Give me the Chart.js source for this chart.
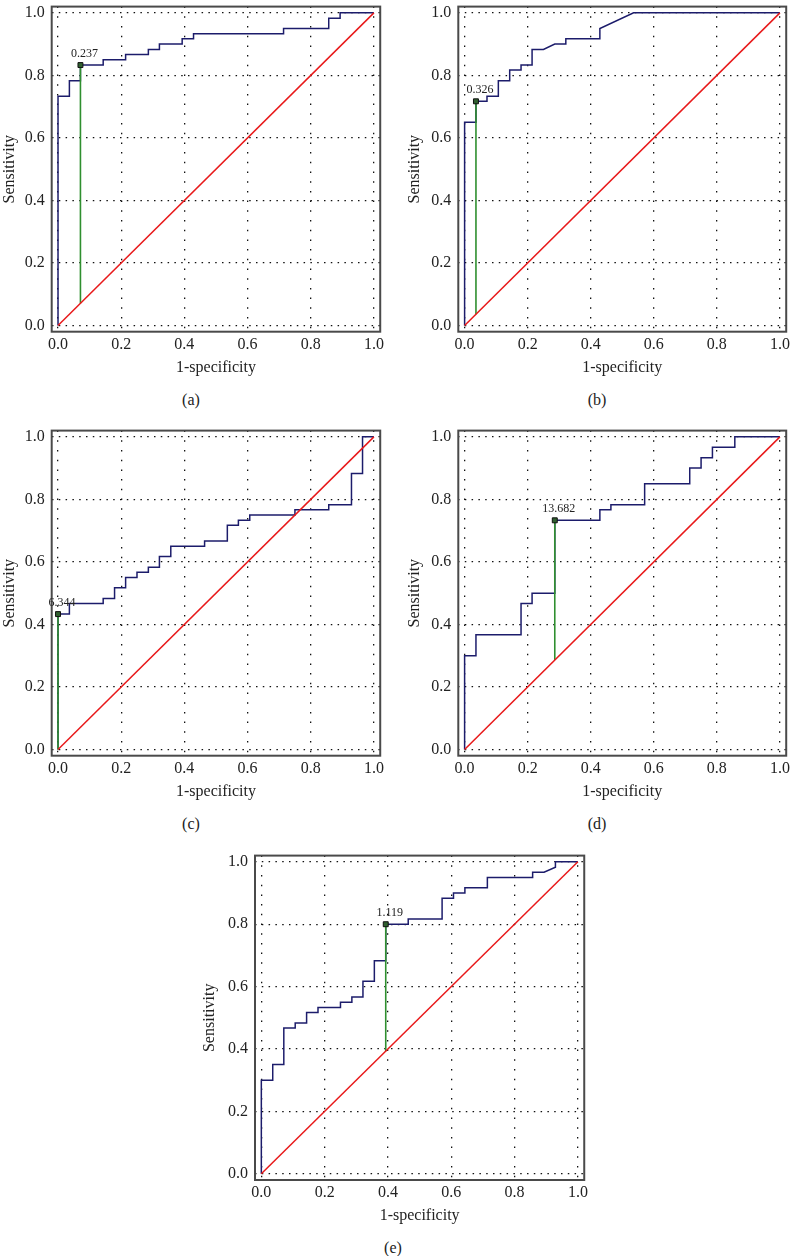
<!DOCTYPE html>
<html>
<head>
<meta charset="utf-8">
<script src="https://cdn.jsdelivr.net/npm/chart.js@4.4.1/dist/chart.umd.min.js"></script>
<style>
  body { margin: 0; background: #fff; }
  #page { position: relative; width: 793px; height: 1256px; overflow: hidden; background: #fff; }
  #page canvas { position: absolute; }
  .cap { position: absolute; font-family: 'Liberation Serif', serif; font-size: 16px; color: #222; transform: translate(-50%, -50%); white-space: nowrap; }
</style>
</head>
<body>
<div id="page"></div>
<script>
// ROC corner points (1-specificity, sensitivity)
const fprA = [0, 0, 0.036, 0.036, 0.071, 0.071, 0.143, 0.143, 0.214, 0.214, 0.286, 0.286, 0.321, 0.321, 0.393, 0.393, 0.429, 0.429, 0.714, 0.714, 0.857, 0.857, 0.893, 0.893, 1];
const tprA = [0, 0.733, 0.733, 0.783, 0.783, 0.833, 0.833, 0.85, 0.85, 0.867, 0.867, 0.883, 0.883, 0.9, 0.9, 0.917, 0.917, 0.933, 0.933, 0.95, 0.95, 0.983, 0.983, 1, 1];

const fprB = [0, 0, 0.036, 0.036, 0.071, 0.071, 0.107, 0.107, 0.143, 0.143, 0.179, 0.179, 0.214, 0.214, 0.25, 0.286, 0.321, 0.321, 0.429, 0.429, 0.536, 1];
const tprB = [0, 0.65, 0.65, 0.717, 0.717, 0.733, 0.733, 0.783, 0.783, 0.817, 0.817, 0.833, 0.833, 0.883, 0.883, 0.9, 0.9, 0.917, 0.917, 0.95, 1, 1];

const fprC = [0, 0, 0.036, 0.036, 0.143, 0.143, 0.179, 0.179, 0.214, 0.214, 0.25, 0.25, 0.286, 0.286, 0.321, 0.321, 0.357, 0.357, 0.464, 0.464, 0.536, 0.536, 0.571, 0.571, 0.607, 0.607, 0.75, 0.75, 0.857, 0.857, 0.929, 0.929, 0.964, 0.964, 1];
const tprC = [0, 0.433, 0.433, 0.467, 0.467, 0.483, 0.483, 0.517, 0.517, 0.55, 0.55, 0.567, 0.567, 0.583, 0.583, 0.617, 0.617, 0.65, 0.65, 0.667, 0.667, 0.717, 0.717, 0.733, 0.733, 0.75, 0.75, 0.767, 0.767, 0.783, 0.783, 0.883, 0.883, 1, 1];

const fprD = [0, 0, 0.036, 0.036, 0.179, 0.179, 0.214, 0.214, 0.286, 0.286, 0.429, 0.429, 0.464, 0.464, 0.571, 0.571, 0.714, 0.714, 0.75, 0.75, 0.786, 0.786, 0.857, 0.857, 1];
const tprD = [0, 0.3, 0.3, 0.367, 0.367, 0.467, 0.467, 0.5, 0.5, 0.733, 0.733, 0.767, 0.767, 0.783, 0.783, 0.85, 0.85, 0.9, 0.9, 0.933, 0.933, 0.967, 0.967, 1, 1];

const fprE = [0, 0, 0.036, 0.036, 0.071, 0.071, 0.107, 0.107, 0.143, 0.143, 0.179, 0.179, 0.25, 0.25, 0.286, 0.286, 0.321, 0.321, 0.357, 0.357, 0.393, 0.393, 0.464, 0.464, 0.571, 0.571, 0.607, 0.607, 0.643, 0.643, 0.714, 0.714, 0.857, 0.857, 0.893, 0.929, 0.929, 1];
const tprE = [0, 0.3, 0.3, 0.35, 0.35, 0.467, 0.467, 0.483, 0.483, 0.517, 0.517, 0.533, 0.533, 0.55, 0.55, 0.567, 0.567, 0.617, 0.617, 0.683, 0.683, 0.8, 0.8, 0.817, 0.817, 0.883, 0.883, 0.9, 0.9, 0.917, 0.917, 0.95, 0.95, 0.967, 0.967, 0.983, 1, 1];

// optimal cut-off points
const cutFpr = [0.071, 0.036, 0, 0.286, 0.393];
const cutTpr = [0.833, 0.717, 0.433, 0.733, 0.8];
const cutLabels = ['0.237', '0.326', '6.344', '13.682', '1.119'];

const panelNames = ['(a)', '(b)', '(c)', '(d)', '(e)'];
const tickValues = [0, 0.2, 0.4, 0.6, 0.8, 1.0];
const xTitle = '1-specificity';
const yTitle = 'Sensitivity';

const fprAll = [fprA, fprB, fprC, fprD, fprE];
const tprAll = [tprA, tprB, tprC, tprD, tprE];

// frame (plot box) position of each panel on the page
const frames = [
    { l: 51.7, r: 383, t: 0, b: 331.7, tx: 10, cx: 191, cy: 399.5 },
    { l: 458.3, r: 789, t: 0, b: 331.7, tx: 415, cx: 597, cy: 400 },
    { l: 51.7, r: 383, t: 424.3, b: 755.7, tx: 10, cx: 191, cy: 823.5 },
    { l: 458.3, r: 789, t: 424.3, b: 755.7, tx: 415, cx: 597, cy: 823.5 },
    { l: 255, r: 586.7, t: 849, b: 1180, tx: 210, cx: 393, cy: 1248 }
];

const serif = "'Liberation Serif', 'Times New Roman', serif";
const page = document.getElementById('page');

const framePlugin = {
    id: 'frame',
    afterDatasetsDraw(chart) {
        const { ctx, chartArea: a } = chart;
        ctx.save();
        ctx.strokeStyle = '#4a4a4a';
        ctx.lineWidth = 2;
        ctx.strokeRect(a.left, a.top, a.right - a.left, a.bottom - a.top);
        ctx.restore();
    }
};

function makePanel(i) {
    const f = frames[i];
    const left = Math.round(f.tx - 9.6);
    const top = Math.round(f.t) - 10;
    const width = Math.ceil(f.r) + 4 - left;
    const height = Math.round(f.b + 44.9) - top;
    const yWidth = f.l - left;
    const xHeight = height - (f.b - top);

    const canvas = document.createElement('canvas');
    canvas.width = width;
    canvas.height = height;
    canvas.style.left = left + 'px';
    canvas.style.top = top + 'px';
    canvas.style.width = width + 'px';
    canvas.style.height = height + 'px';
    page.appendChild(canvas);

    const cap = document.createElement('div');
    cap.className = 'cap';
    cap.style.left = f.cx + 'px';
    cap.style.top = f.cy + 'px';
    cap.textContent = panelNames[i];
    page.appendChild(cap);

    const roc = fprAll[i].map((x, k) => ({ x: x, y: tprAll[i][k] }));
    const cx = cutFpr[i], cy = cutTpr[i];

    const labelPlugin = {
        id: 'cutLabel',
        afterDatasetsDraw(chart) {
            const px = chart.scales.x.getPixelForValue(cx);
            const py = chart.scales.y.getPixelForValue(cy);
            const ctx = chart.ctx;
            ctx.save();
            ctx.font = '12px ' + serif;
            ctx.fillStyle = '#222';
            ctx.textAlign = 'center';
            ctx.textBaseline = 'middle';
            ctx.fillText(cutLabels[i], px + 4, py - 11);
            ctx.restore();
        }
    };

    const axis = (title, dash) => ({
        type: 'linear',
        min: -0.02,
        max: 1.02,
        afterBuildTicks: (scale) => { scale.ticks = tickValues.map(v => ({ value: v })); },
        grid: { color: '#111', lineWidth: 1.3, drawTicks: false },
        border: { display: false, dash: dash },
        ticks: {
            color: '#222',
            padding: 7,
            font: { family: serif, size: 16 },
            callback: (v) => Number(v).toFixed(1)
        },
        title: {
            display: true,
            text: title,
            color: '#222',
            padding: 0,
            font: { family: serif, size: 16 }
        }
    });

    const xAxis = axis(xTitle, [1.5, 8.2]);
    xAxis.ticks.padding = 3;
    xAxis.afterFit = (scale) => { scale.height = xHeight; };
    const yAxis = axis(yTitle, [1.5, 5.3]);
    yAxis.afterFit = (scale) => { scale.width = yWidth; };

    new Chart(canvas.getContext('2d'), {
        type: 'scatter',
        data: {
            datasets: [
                {
                    // reference diagonal
                    data: [{ x: 0, y: 0 }, { x: 1, y: 1 }],
                    showLine: true,
                    borderColor: '#e8191a',
                    borderWidth: 1.5,
                    pointRadius: 0
                },
                {
                    // cut-off marker
                    data: [{ x: cx, y: cy }],
                    pointStyle: 'rect',
                    pointRadius: 3.5,
                    backgroundColor: '#2f5f2f',
                    borderColor: '#111',
                    borderWidth: 1
                },
                {
                    // vertical line from diagonal to cut-off
                    data: [{ x: cx, y: cx }, { x: cx, y: cy }],
                    showLine: true,
                    borderColor: '#2f8f2f',
                    borderWidth: 1.6,
                    pointRadius: 0
                },
                {
                    // ROC curve
                    data: roc,
                    showLine: true,
                    borderColor: '#1c1c6b',
                    borderWidth: 1.5,
                    pointRadius: 0,
                    tension: 0
                }
            ]
        },
        options: {
            responsive: false,
            animation: false,
            devicePixelRatio: 1,
            layout: { padding: { top: f.t - top, right: width - (f.r - left), left: 0, bottom: 0 } },
            plugins: { legend: { display: false }, tooltip: { enabled: false } },
            scales: { x: xAxis, y: yAxis }
        },
        plugins: [framePlugin, labelPlugin]
    });
}

for (let i = 0; i < 5; i++) makePanel(i);
</script>
</body>
</html>
